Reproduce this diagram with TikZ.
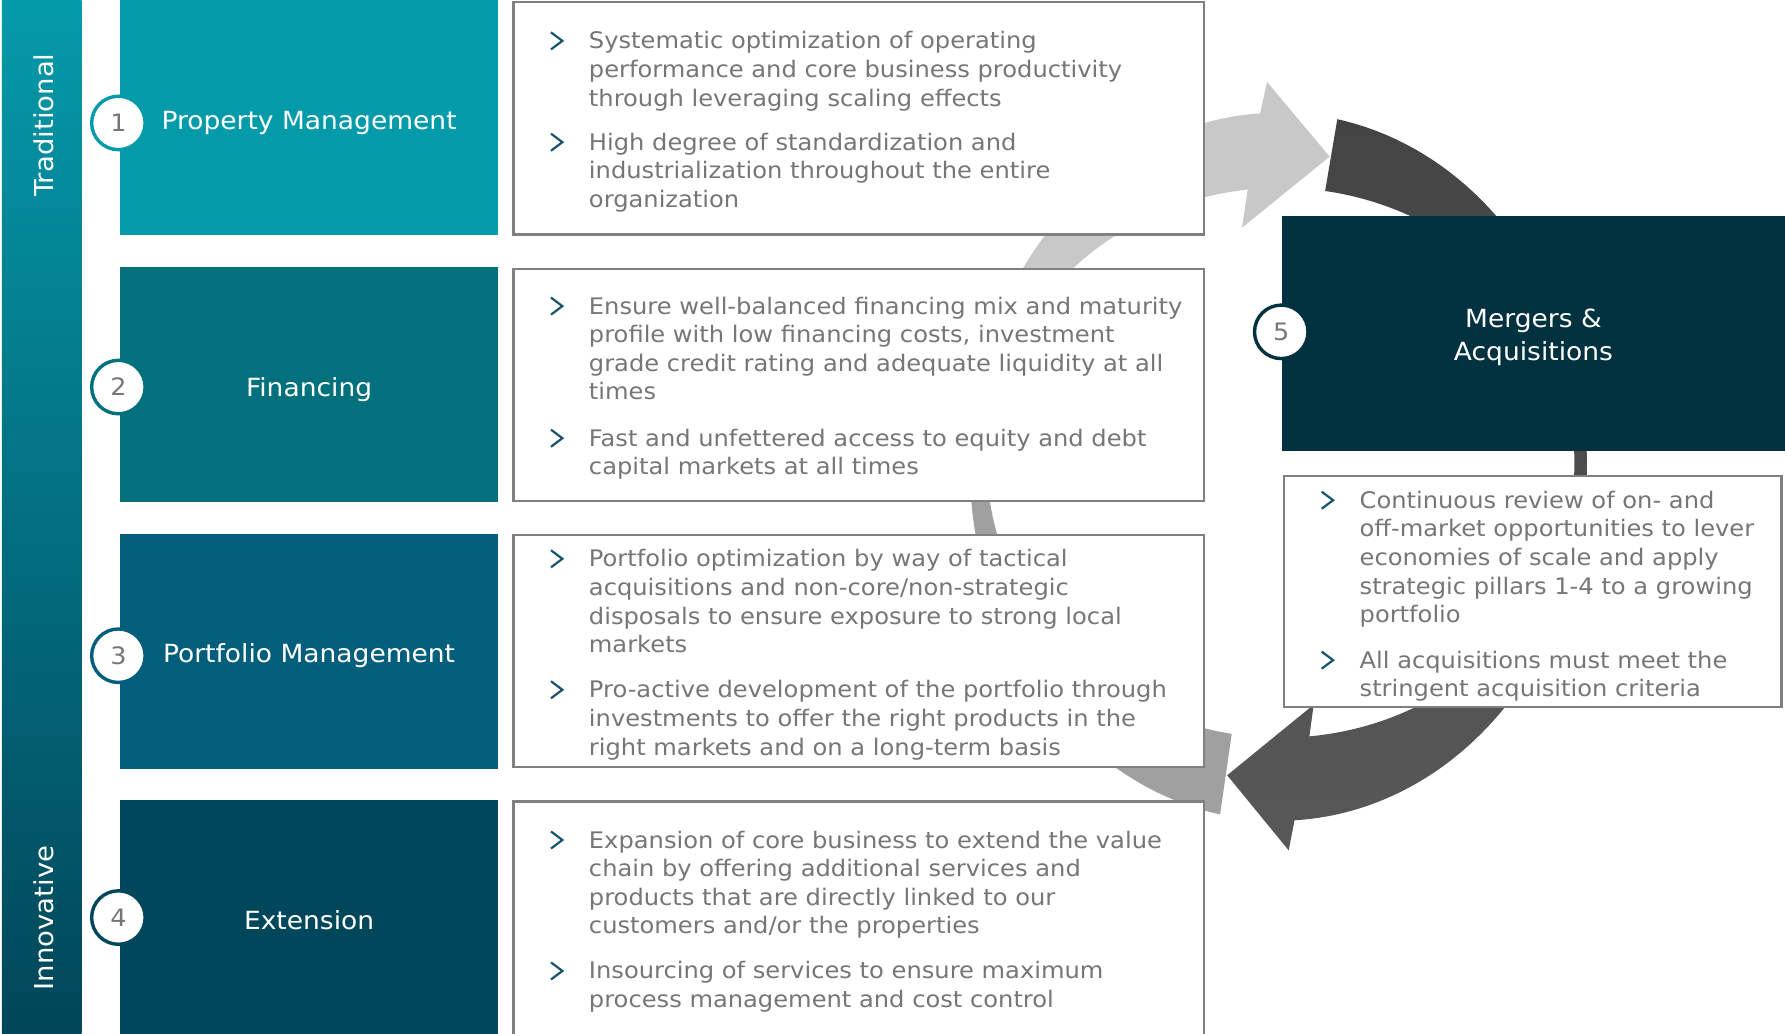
\documentclass[tikz,border=0pt]{standalone}
\usepackage{fontspec}
\setmainfont{DejaVu Sans}[FakeStretch=1.06]
\usetikzlibrary{calc}
\definecolor{reteal}{RGB}{3,155,170}
\definecolor{refin}{RGB}{2,113,125}
\definecolor{report}{RGB}{2,94,122}
\definecolor{reext}{RGB}{1,71,92}
\definecolor{remna}{RGB}{2,50,64}
\definecolor{rebartop}{RGB}{4,154,170}
\definecolor{rebarbottom}{RGB}{1,69,88}
\definecolor{retext}{RGB}{118,118,118}
\definecolor{reborder}{RGB}{128,128,128}
\definecolor{rechevron}{RGB}{24,84,110}
\definecolor{relight}{RGB}{200,200,200}
\definecolor{remedium}{RGB}{160,160,160}
\definecolor{redarktop}{RGB}{68,68,68}
\definecolor{redarkbottom}{RGB}{88,88,88}
\tikzstyle{pillarbox}=[minimum width=6.64cm,minimum height=4.13cm,inner sep=0pt,text=white,text height=11.7pt,text depth=0pt,font=\fontsize{12.5}{16.3}\selectfont]
\tikzstyle{infobox}=[draw=reborder,line width=1.1pt,fill=white,minimum width=12.14cm,minimum height=4.08cm]
\tikzstyle{numcircle}=[circle,line width=1.7pt,fill=white,minimum size=0.94cm,inner sep=0pt,text=retext,font=\fontsize{12}{15}\selectfont]
\tikzstyle{bullettext}=[anchor=north west,align=left,inner sep=0pt,text=retext,font=\fontsize{11.4}{14.3}\selectfont,execute at begin node=\strut]
\tikzstyle{sidelabel}=[rotate=90,text=white,font=\fontsize{13}{16}\selectfont]
\tikzstyle{chevron}=[draw=rechevron,line width=1.1pt]

\begin{document}
\begin{tikzpicture}[x=0.02cm,y=-0.02cm]
  \useasboundingbox (0,0) rectangle (1568,908);
  \coordinate (co) at (1123,410);
  \coordinate (ci) at (1125,406.5);

  % cycle arrows behind the boxes
  \fill[remedium] ($(co)+(100.9:271 and 311)$) arc[start angle=100.9,end angle=190,x radius=271,y radius=311]
    -- ($(ci)+(190:258 and 241.5)$) arc[start angle=190,end angle=99.6,x radius=258,y radius=241.5] -- cycle;
  \fill[relight] ($(co)+(-172:271 and 311)$) arc[start angle=-172,end angle=-93.4,x radius=271,y radius=311]
    -- (1113,72) -- (1168,137.6) -- (1091,200)
    -- ($(ci)+(-96.45:258 and 241.5)$) arc[start angle=-96.45,end angle=-172,x radius=258,y radius=241.5] -- cycle;
  \shade[top color=redarktop,bottom color=redarkbottom] ($(co)+(-79:271 and 311)$) arc[start angle=-79,end angle=87,x radius=271,y radius=311]
    -- (1132,747) -- (1078,681) -- (1154,619)
    -- ($(ci)+(84.4:258 and 241.5)$) arc[start angle=84.4,end angle=-81.3,x radius=258,y radius=241.5] -- cycle;

  % left bar
  \node[minimum width=1.4cm,minimum height=18.3cm,inner sep=0pt,top color=rebartop,bottom color=rebarbottom] (bar) at (36.7,454) {};
  \node[sidelabel] (trad) at (38.7,110) {Traditional};
  \node[sidelabel] (innov) at (38.7,806.5) {Innovative};

  % pillars
  \node[pillarbox,fill=reteal] (pm) at (271.5,103.5) {Property Management};
  \node[pillarbox,fill=refin] (fin) at (271.5,338) {Financing};
  \node[pillarbox,fill=report] (port) at (271.5,572) {Portfolio Management};
  \node[pillarbox,fill=reext] (ext) at (271.5,806) {Extension};
  \node[numcircle,draw=reteal] (n1) at (104,108) {1};
  \node[numcircle,draw=refin] (n2) at (104,340) {2};
  \node[numcircle,draw=report] (n3) at (104,576) {3};
  \node[numcircle,draw=reext] (n4) at (104,806) {4};

  % text boxes
  \node[infobox] (ib1) at (754.5,104) {};
  \node[infobox] (ib2) at (754.5,338) {};
  \node[infobox] (ib3) at (754.5,572) {};
  \node[infobox,minimum height=4.2cm] (ib4) at (754.5,809) {};

  \node[bullettext] (t1a) at (517,27.4) {Systematic optimization of operating\\performance and core business productivity\\through leveraging scaling effects};
  \node[bullettext] (t1b) at (517,116.4) {High degree of standardization and\\industrialization throughout the entire\\organization};
  \node[bullettext] (t2a) at (517,260.4) {Ensure well-balanced financing mix and maturity\\profile with low financing costs, investment\\grade credit rating and adequate liquidity at all\\times};
  \node[bullettext] (t2b) at (517,376.4) {Fast and unfettered access to equity and debt\\capital markets at all times};
  \node[bullettext] (t3a) at (517,482.4) {Portfolio optimization by way of tactical\\acquisitions and non-core/non-strategic\\disposals to ensure exposure to strong local\\markets};
  \node[bullettext] (t3b) at (517,597.4) {Pro-active development of the portfolio through\\investments to offer the right products in the\\right markets and on a long-term basis};
  \node[bullettext] (t4a) at (517,729.4) {Expansion of core business to extend the value\\chain by offering additional services and\\products that are directly linked to our\\customers and/or the properties};
  \node[bullettext] (t4b) at (517,844.4) {Insourcing of services to ensure maximum\\process management and cost control};

  % mergers and acquisitions
  \node[pillarbox,minimum width=8.84cm,fill=remna] (mna) at (1347,292.75) {};
  \node[text=white,align=center,font=\fontsize{12.5}{16.3}\selectfont] (mnatitle) at (1347,296.5) {Mergers \&\\Acquisitions};
  \node[numcircle,draw=remna] (n5) at (1125.5,291.5) {5};
  \node[infobox,minimum width=8.74cm,minimum height=4.06cm] (ib5) at (1346.5,519.5) {};
  \node[bullettext] (t5a) at (1194,430.9) {Continuous review of on- and\\off-market opportunities to lever\\economies of scale and apply\\strategic pillars 1-4 to a growing\\portfolio};
  \node[bullettext] (t5b) at (1194,571.4) {All acquisitions must meet the\\stringent acquisition criteria};

  \foreach \b in {t1a,t1b,t2a,t2b,t3a,t3b,t4a,t4b,t5a,t5b}
    \draw[chevron] ($(\b.north west)+(-33,1)$) -- ++(10,7.5) -- ++(-10,7.5);
\end{tikzpicture}
\end{document}
